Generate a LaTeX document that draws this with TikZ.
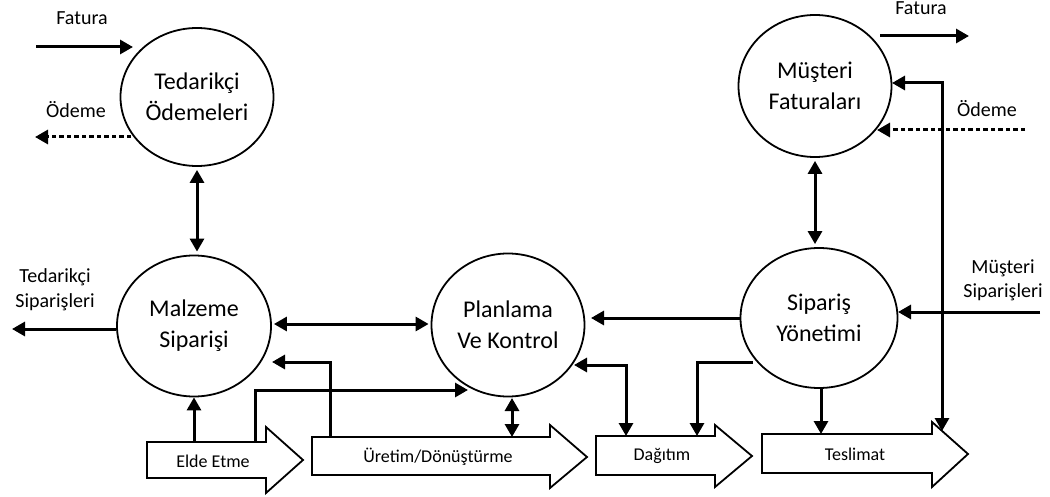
\documentclass[tikz,border=0pt]{standalone}
\usepackage{fontspec}
\setmainfont{Carlito}
\usetikzlibrary{arrows.meta,shapes.geometric}

\begin{document}
\begin{tikzpicture}[x=1pt,y=-1pt,
  proc/.style={draw, line width=1.8pt, ellipse, inner sep=0pt,
    minimum width=153pt, minimum height=140pt, align=center,
    font=\fontsize{24}{31}\selectfont},
  flow/.style={line width=3pt, -{Triangle[length=13pt,width=14pt]}},
  flowtwo/.style={line width=3pt, {Triangle[length=13pt,width=14pt]}-{Triangle[length=13pt,width=14pt]}},
  dotflow/.style={flow, dash pattern=on 4.5pt off 3pt},
  lbl/.style={font=\fontsize{20}{25}\selectfont, align=center},
  boxtxt/.style={font=\fontsize{18}{20}\selectfont},
  blk/.style={draw, line width=1.8pt, fill=white, line join=miter}
]
\useasboundingbox (0,0) rectangle (1050,497);

% ---------- processes ----------
\node[proc, minimum height=138pt] (ted) at (197,97)  {Tedarikçi\\Ödemeleri};
\node[proc, minimum width=154pt, minimum height=141pt] (malz) at (194,326) {Malzeme\\Siparişi};
\node[proc, minimum height=143pt] (plan) at (508,325) {Planlama\\Ve Kontrol};
\node[proc, minimum height=142pt] (mus)  at (815,86)  {Müşteri\\Faturaları};
\node[proc, minimum width=157pt] (sip)  at (819,318) {Sipariş\\Yönetimi};

% ---------- block arrows (activities) ----------
\draw[blk] (147,442) -- (266,442) -- (266,427) -- (303,460) -- (266,493) -- (266,478) -- (147,478) -- cycle;
\draw[blk] (312,437) -- (550,437) -- (550,425) -- (587,457) -- (550,488) -- (550,475) -- (312,475) -- cycle;
\draw[blk] (596,436) -- (715,436) -- (715,425) -- (752,456) -- (715,487) -- (715,475) -- (596,475) -- cycle;
\draw[blk] (762,434) -- (932,434) -- (932,422) -- (968,454) -- (932,487) -- (932,473) -- (762,473) -- cycle;

\node[boxtxt] (elde) at (213,461) {Elde Etme};
\node[boxtxt] (uret) at (438,457) {Üretim/Dönüştürme};
\node[boxtxt] (dag)  at (662,456) {Dağıtım};
\node[boxtxt] (tes)  at (855,454) {Teslimat};

% attachment points on the block arrows
\coordinate (eldeA) at (194,442);
\coordinate (eldeB) at (255,442);
\coordinate (uretA) at (330,437);
\coordinate (uretB) at (512,437);
\coordinate (dagA)  at (626,436);
\coordinate (dagB)  at (697,436);
\coordinate (tesA)  at (821,434);
\coordinate (tesB)  at (942,431);

% attachment points on the processes
\coordinate (tedIn)   at (133,47);
\coordinate (tedOut)  at (131,137);
\coordinate (malzA)   at (272,362);
\coordinate (planA)   at (468,390);
\coordinate (planB)   at (574,365);
\coordinate (planC)   at (512,398);
\coordinate (planD)   at (591,318);
\coordinate (sipA)    at (753,362);
\coordinate (sipB)    at (898,312);
\coordinate (musA)    at (892,83);
\coordinate (musB)    at (880,36);
\coordinate (musC)    at (877,130);

% free ends
\coordinate (fatL) at (36,47);
\coordinate (odL)  at (35,137);
\coordinate (tsL)  at (12,329);
\coordinate (fatR) at (969,36);
\coordinate (odR)  at (1025,130);
\coordinate (msR)  at (1040,312);

% ---------- labels ----------
\node[lbl, anchor=base] (lfatL) at (82,25)  {Fatura};
\node[lbl, anchor=base] (lodL)  at (76,118) {Ödeme};
\node[lbl, anchor=base] (lts1)  at (55,283) {Tedarikçi};
\node[lbl, anchor=base] (lts2)  at (55,308) {Siparişleri};
\node[lbl, anchor=base] (lfatR) at (921,15) {Fatura};
\node[lbl, anchor=base] (lodR)  at (987,117) {Ödeme};
\node[lbl, anchor=base] (lms1)  at (1003,273) {Müşteri};
\node[lbl, anchor=base] (lms2)  at (1003,298) {Siparişleri};

% ---------- flows ----------
\draw[flow] (fatL) -- (tedIn);
\draw[dotflow] (tedOut) -- (odL);
\draw[flowtwo, shorten <=3pt, shorten >=3pt] (ted.south) -- (ted.south |- malz.north);
\draw[flow] (malz.west |- tsL) -- (tsL);
\draw[flowtwo, shorten <=2pt, shorten >=2pt] (malz.east |- 0,324) -- (plan.west |- 0,324);
\draw[flow] (uretA) |- (malzA);
\draw[flow] (eldeA) -- (malz.south);
\draw[flow] (eldeB) |- (planA);
\draw[flowtwo] (planC) -- (uretB);
\draw[flowtwo] (planB) -| (dagA);
\draw[flow] (sip.west) -- (planD);
\draw[flow] (sipA) -| (dagB);
\draw[flow] (sip.south -| tesA) -- (tesA);
\draw[flow] (msR) -- (sipB);
\draw[flowtwo, line join=miter] (musA) -| (tesB);
\draw[flow] (musB) -- (fatR);
\draw[dotflow] (odR) -- (musC);
\draw[flowtwo, shorten <=3pt, shorten >=3pt] (mus.south) -- (mus.south |- sip.north);

\end{tikzpicture}
\end{document}
